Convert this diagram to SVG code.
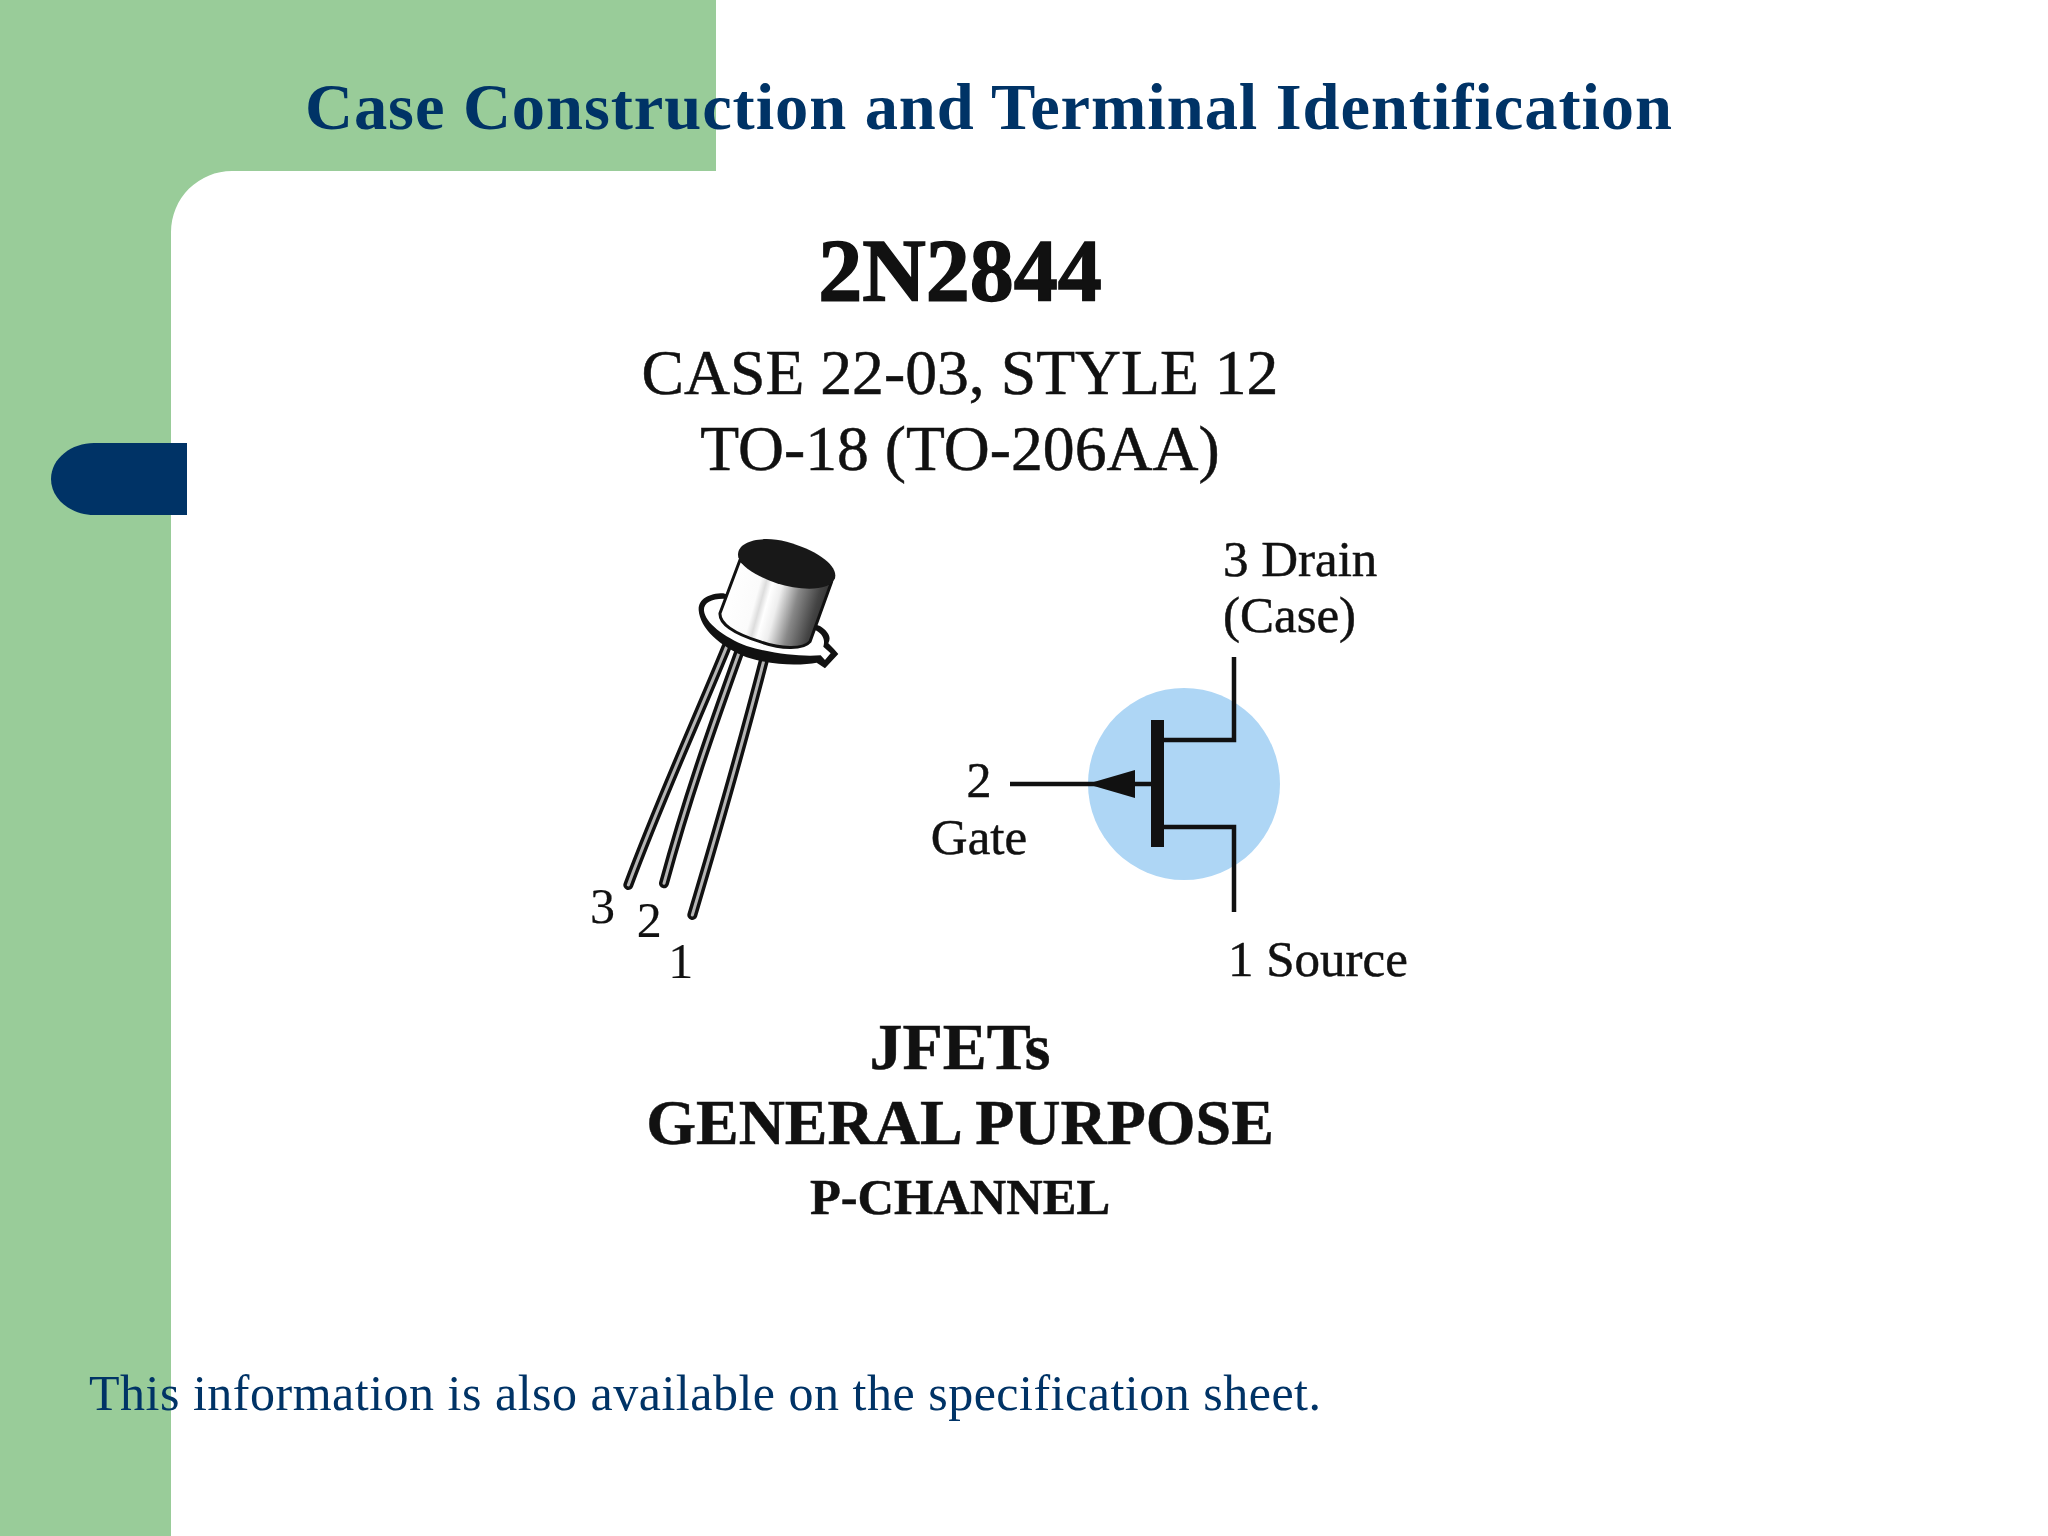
<svg xmlns="http://www.w3.org/2000/svg" width="2048" height="1536" viewBox="0 0 2048 1536">
<style>
text{font-family:"Liberation Serif","Times New Roman",serif;fill:#111;stroke:#111;stroke-width:.5}
.b{font-weight:bold}
.m{text-anchor:middle}
.t{fill:#003366;stroke:none}
.w{fill:none;stroke:#111;stroke-width:4.500}
.lead{fill:none;stroke:#111;stroke-width:30;stroke-linecap:round}
.core{fill:none;stroke:#b5b5b5;stroke-width:9;stroke-linecap:round}
</style>
<defs>
<linearGradient id="can" gradientUnits="userSpaceOnUse" x1="500" y1="270" x2="790" y2="350">
<stop offset="0" stop-color="#fff"/><stop offset=".3" stop-color="#fbfbfb"/><stop offset=".36" stop-color="#ddd"/><stop offset=".42" stop-color="#fff"/><stop offset=".52" stop-color="#eee"/><stop offset=".7" stop-color="#888"/><stop offset=".9" stop-color="#444"/><stop offset="1" stop-color="#333"/>
</linearGradient>
</defs>
<rect width="2048" height="1536" fill="#fff"/>
<g id="background">
<path d="M0 0H716V171H232A61 61 0 0 0 171 232V1536H0Z" fill="#99CC99"/>
<path d="M51 479C51 458 72 443 94 443H187V515H94C72 515 51 500 51 479Z" fill="#003366"/>
</g>
<text id="title" class="b t" x="305" y="129" font-size="66.500" textLength="1367" lengthAdjust="spacing">Case Construction and Terminal Identification</text>
<g id="heading">
<text class="b m" x="960" y="300" font-size="88" style="stroke-width:1.500">2N2844</text>
<text class="m" x="960" y="394" font-size="63.700">CASE 22-03, STYLE 12</text>
<text class="m" x="960" y="470" font-size="63.700">TO-18 (TO-206AA)</text>
</g>
<g id="transistor" transform="translate(560 500) scale(.3333)">
<path class="lead" d="M500 440C410 660 300 900 205 1155M540 450C450 700 380 900 312 1150M612 480C540 760 470 1000 397 1245"/>
<path class="core" d="M500 440C410 660 300 900 205 1155M540 450C450 700 380 900 312 1150M612 480C540 760 470 1000 397 1245"/>
<path d="M490 280C445 280 415 298 416 330C420 385 480 440 560 472C650 500 730 495 770 488L795 505L835 462L822 447L805 430C815 410 805 395 780 378Z" fill="#111"/>
<path d="M490 296C452 296 430 310 432 332C436 368 490 410 560 438C640 462 720 470 782 466L795 480L812 460L790 440C796 420 790 405 770 392Z" fill="#fff"/>
<path d="M540 180L480 340C478 370 520 400 600 425C660 447 730 450 750 425L815 245C770 270 640 260 540 180Z" fill="url(#can)" stroke="#111" stroke-width="9" stroke-linejoin="round"/>
<path d="M535 172C525 125 600 105 680 125C770 150 835 195 825 235C810 275 720 272 650 250C600 232 545 205 535 172Z" fill="#181818"/>
<text x="90" y="1268" font-size="150">3</text>
<text x="230" y="1312" font-size="150">2</text>
<text x="325" y="1435" font-size="150">1</text>
</g>
<g id="symbol">
<ellipse cx="1184" cy="784" rx="96" ry="96" fill="#AED6F5"/>
<rect x="1151" y="720" width="13" height="127" fill="#111"/>
<g id="connectors">
<path class="w" d="M1162 740H1234V657"/>
<path class="w" d="M1162 827H1234V912"/>
<path class="w" d="M1010 784H1152"/>
<path d="M1087 784L1135 770V798Z" fill="#111"/>
</g>
<text x="1223" y="576" font-size="51">3 Drain</text>
<text x="1223" y="632" font-size="51">(Case)</text>
<text x="1228" y="976" font-size="51">1 Source</text>
<text class="m" x="979" y="797" font-size="50">2</text>
<text class="m" x="979" y="854" font-size="51">Gate</text>
</g>
<g id="footer-text">
<text class="b m" x="960" y="1069" font-size="66">JFETs</text>
<text class="b m" x="960" y="1144" font-size="64">GENERAL PURPOSE</text>
<text class="b m" x="960" y="1214" font-size="50.500">P-CHANNEL</text>
</g>
<text id="note" class="t" x="89" y="1410" font-size="50" textLength="1232">This information is also available on the specification sheet.</text>
</svg>
